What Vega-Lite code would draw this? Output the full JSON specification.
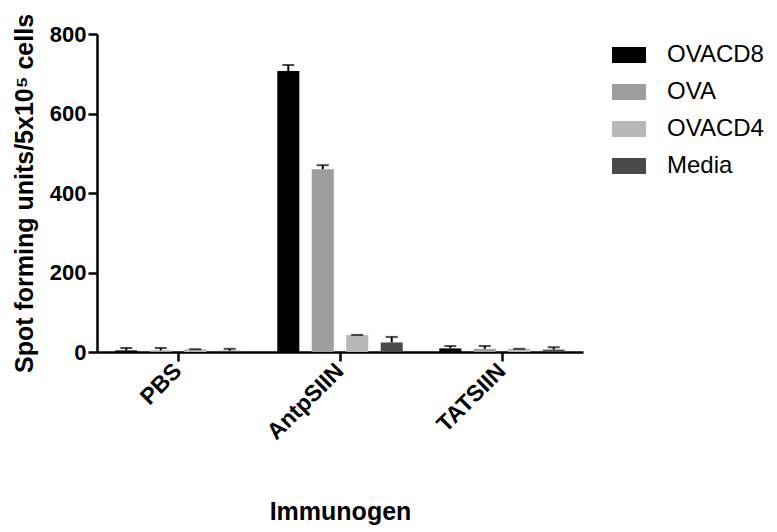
{
  "$schema": "https://vega.github.io/schema/vega-lite/v6.json",
  "autosize": "none",
  "width": 486,
  "height": 318,
  "padding": {"left": 97, "top": 34, "right": 194, "bottom": 180},
  "background": "white",
  "config": {
    "view": {"stroke": null},
    "font": "Liberation Sans",
    "axis": {"grid": false, "domainColor": "black", "domainWidth": 2.5, "tickColor": "black", "tickWidth": 2.5, "labelColor": "black", "titleColor": "black", "labelFont": "Liberation Sans", "titleFont": "Liberation Sans"}
  },
  "data": {
    "values": [
      {"group": "PBS", "series": "OVACD8", "value": 4, "hi": 10},
      {"group": "PBS", "series": "OVA", "value": 4, "hi": 10},
      {"group": "PBS", "series": "OVACD4", "value": 7, "hi": 7},
      {"group": "PBS", "series": "Media", "value": 3, "hi": 8},
      {"group": "AntpSIIN", "series": "OVACD8", "value": 707, "hi": 722},
      {"group": "AntpSIIN", "series": "OVA", "value": 460, "hi": 470},
      {"group": "AntpSIIN", "series": "OVACD4", "value": 43, "hi": 43},
      {"group": "AntpSIIN", "series": "Media", "value": 24, "hi": 38},
      {"group": "TATSIIN", "series": "OVACD8", "value": 9, "hi": 15},
      {"group": "TATSIIN", "series": "OVA", "value": 8, "hi": 15},
      {"group": "TATSIIN", "series": "OVACD4", "value": 8, "hi": 8},
      {"group": "TATSIIN", "series": "Media", "value": 6, "hi": 12}
    ]
  },
  "encoding": {
    "x": {
      "field": "group", "type": "nominal", "sort": ["PBS", "AntpSIIN", "TATSIIN"],
      "scale": {"paddingInner": 0, "paddingOuter": 0},
      "axis": {"title": "Immunogen", "labelAngle": -45, "labelBaseline": "middle", "labelAlign": "right", "labelFontSize": 23, "labelFontWeight": "bold", "titleFontSize": 25, "titleFontWeight": "bold", "titlePadding": 55, "tickSize": 9, "labelPadding": 6}
    },
    "xOffset": {
      "field": "series", "type": "nominal", "sort": ["OVACD8", "OVA", "OVACD4", "Media"],
      "scale": {"paddingInner": 0.36, "paddingOuter": 0.53}
    }
  },
  "layer": [
    {
      "mark": {"type": "bar"},
      "encoding": {
        "y": {
          "field": "value", "type": "quantitative",
          "scale": {"domain": [0, 800]},
          "axis": {"title": "Spot forming units/5x10⁵ cells", "values": [0, 200, 400, 600, 800], "labelFontSize": 22, "labelFontWeight": "bold", "titleFontSize": 25, "titleFontWeight": "bold", "tickSize": 9, "labelPadding": 2, "titlePadding": 12}
        },
        "color": {
          "field": "series", "type": "nominal", "sort": ["OVACD8", "OVA", "OVACD4", "Media"],
          "scale": {"domain": ["OVACD8", "OVA", "OVACD4", "Media"], "range": ["#000000", "#9e9e9e", "#b8b8b8", "#4a4a4a"]},
          "legend": {
            "title": null, "orient": "none", "legendX": 515, "legendY": 4,
            "symbolType": "M-1,-0.47H1V0.47H-1Z", "symbolSize": 1156, "symbolStrokeWidth": 0,
            "labelFontSize": 24, "labelFont": "Liberation Sans", "labelColor": "black", "labelOffset": 21, "rowPadding": 8, "padding": 0
          }
        }
      }
    },
    {
      "mark": {"type": "rule", "color": "black", "strokeWidth": 2},
      "encoding": {
        "y": {"field": "value", "type": "quantitative"},
        "y2": {"field": "hi"}
      }
    },
    {
      "mark": {"type": "tick", "color": "black", "thickness": 2, "size": 12},
      "encoding": {
        "y": {"field": "hi", "type": "quantitative"}
      }
    }
  ]
}
